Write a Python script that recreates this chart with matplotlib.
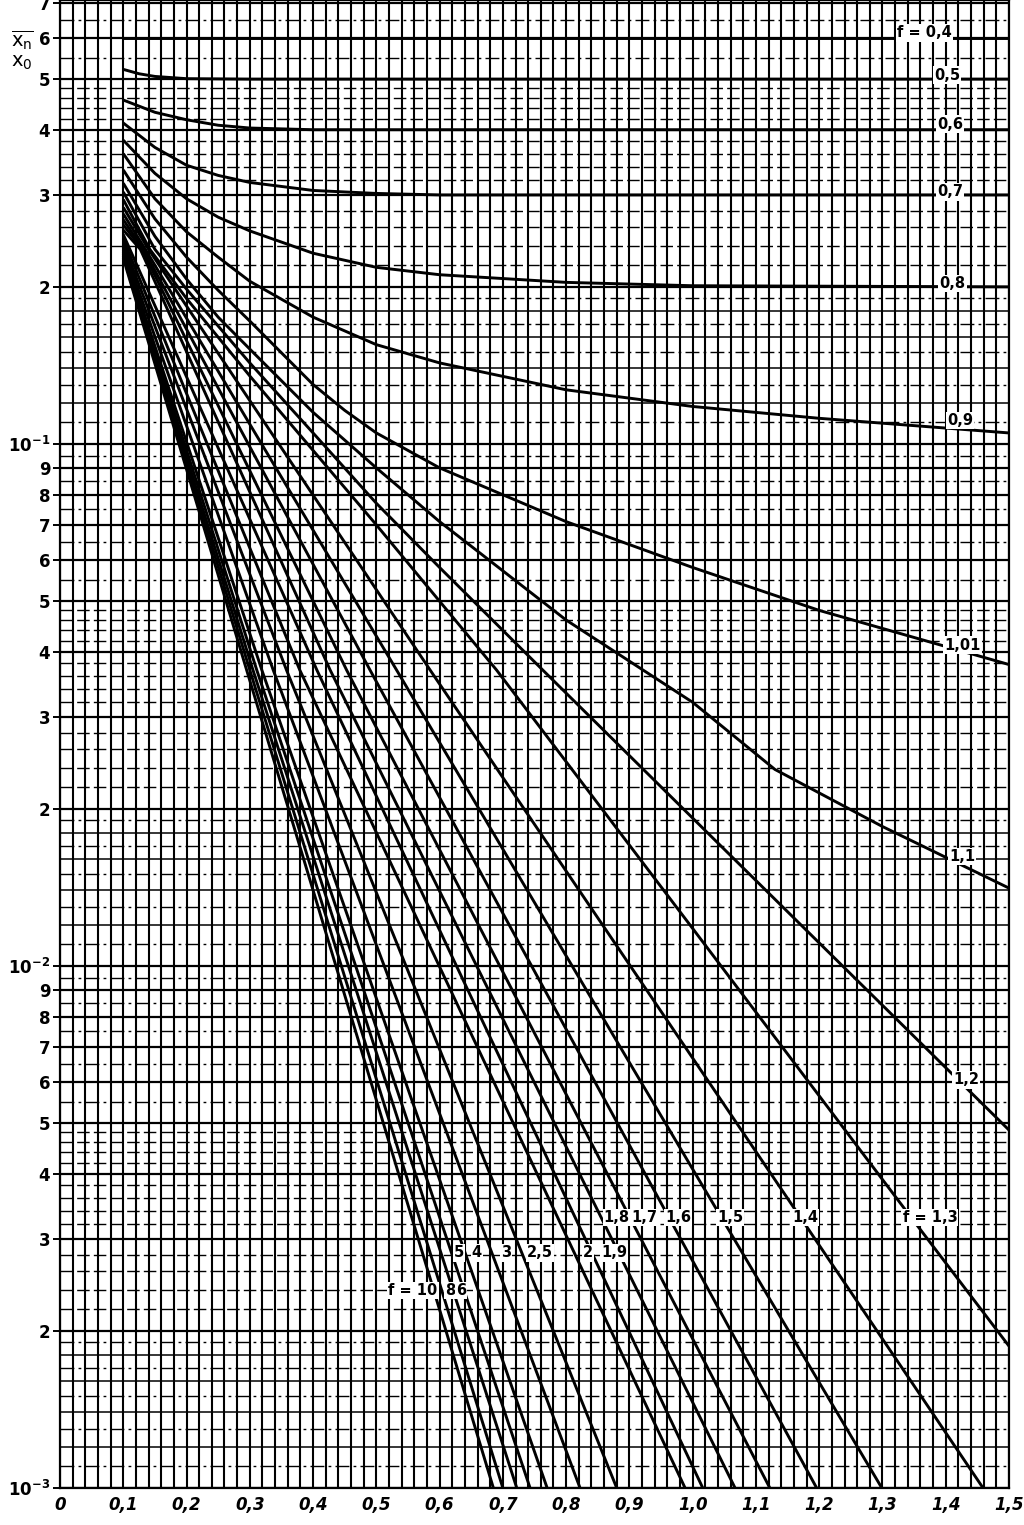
import numpy as np
import matplotlib.pyplot as plt
from matplotlib.ticker import FixedLocator, NullLocator

plt.rcParams['font.family'] = ['DejaVu Sans']
plt.rcParams['mathtext.fontset'] = 'dejavusans'

# curves, x vs x_n/x_0 (log)
x_f04 = [0.1, 1.5]
y_f04 = [0.6, 0.6]
x_f05 = [0.1, 0.125, 0.15, 0.2, 0.3, 1.5]
y_f05 = [0.522, 0.512, 0.506, 0.501, 0.5, 0.5]
x_f06 = [0.1, 0.15, 0.2, 0.25, 0.3, 0.4, 1.5]
y_f06 = [0.456, 0.432, 0.418, 0.408, 0.403, 0.4, 0.4]
x_f07 = [0.1, 0.15, 0.2, 0.25, 0.3, 0.4, 0.5, 0.6, 1.5]
y_f07 = [0.412, 0.37, 0.342, 0.327, 0.317, 0.306, 0.302, 0.3, 0.3]
x_f08 = [0.1, 0.15, 0.2, 0.25, 0.3, 0.4, 0.5, 0.6, 0.8, 1.0, 1.5]
y_f08 = [0.382, 0.33, 0.295, 0.272, 0.256, 0.232, 0.218, 0.211, 0.204, 0.201, 0.2]
x_f09 = [0.1, 0.15, 0.2, 0.25, 0.3, 0.4, 0.5, 0.6, 0.8, 1.0, 1.2, 1.5]
y_f09 = [0.36, 0.295, 0.255, 0.228, 0.205, 0.175, 0.155, 0.143, 0.127, 0.118, 0.112, 0.105]
x_f101 = [0.1, 0.15, 0.2, 0.25, 0.3, 0.4, 0.45, 0.5, 0.6, 0.8, 1.0, 1.2, 1.5]
y_f101 = [0.335, 0.27, 0.228, 0.197, 0.172, 0.13, 0.116, 0.105, 0.09, 0.071, 0.058, 0.048, 0.0378]
x_f11 = [0.1, 0.15, 0.2, 0.25, 0.3, 0.4, 0.5, 0.6, 0.8, 1.0, 1.13, 1.3, 1.5]
y_f11 = [0.316, 0.25, 0.207, 0.175, 0.152, 0.115, 0.09, 0.071, 0.046, 0.032, 0.0238, 0.0185, 0.0141]
x_f12 = [0.1, 0.15, 0.2, 0.3, 0.4, 0.5, 0.6, 0.763, 1.0, 1.237, 1.5]
y_f12 = [0.304, 0.236, 0.198, 0.143, 0.105, 0.077, 0.058, 0.0369, 0.0192, 0.01, 0.00485]
x_f13 = [0.1, 0.142, 0.2, 0.3, 0.5, 0.69, 1.0, 1.346, 1.5]
y_f13 = [0.294, 0.236, 0.19, 0.135, 0.07, 0.0369, 0.0118, 0.00329, 0.00187]
x_f14 = [0.1, 0.14, 0.585, 1.171, 1.459]
y_f14 = [0.284, 0.236, 0.0369, 0.00329, 0.001]
x_f15 = [0.1, 0.135, 0.532, 1.299]
y_f15 = [0.276, 0.236, 0.0369, 0.001]
x_f16 = [0.1, 0.132, 0.49, 1.196]
y_f16 = [0.269, 0.236, 0.0369, 0.001]
x_f17 = [0.1, 0.13, 0.453, 1.122]
y_f17 = [0.263, 0.236, 0.0369, 0.001]
x_f18 = [0.1, 0.127, 0.427, 1.067]
y_f18 = [0.257, 0.236, 0.0369, 0.001]
x_f19 = [0.1, 0.406, 1.016]
y_f19 = [0.252, 0.0369, 0.001]
x_f2 = [0.1, 0.379, 0.988]
y_f2 = [0.247, 0.0369, 0.001]
x_f25 = [0.1, 0.358, 0.880]
y_f25 = [0.242, 0.0369, 0.001]
x_f3 = [0.1, 0.337, 0.822]
y_f3 = [0.238, 0.0369, 0.001]
x_f4 = [0.1, 0.319, 0.770]
y_f4 = [0.235, 0.0369, 0.001]
x_f5 = [0.1, 0.311, 0.743]
y_f5 = [0.233, 0.0369, 0.001]
x_f6 = [0.1, 0.305, 0.722]
y_f6 = [0.231, 0.0369, 0.001]
x_f8 = [0.1, 0.300, 0.700]
y_f8 = [0.229, 0.0369, 0.001]
x_f10 = [0.1, 0.295, 0.685]
y_f10 = [0.227, 0.0369, 0.001]

curves = [(x_f04, y_f04), (x_f05, y_f05), (x_f06, y_f06), (x_f07, y_f07),
          (x_f08, y_f08), (x_f09, y_f09), (x_f101, y_f101), (x_f11, y_f11),
          (x_f12, y_f12), (x_f13, y_f13), (x_f14, y_f14), (x_f15, y_f15),
          (x_f16, y_f16), (x_f17, y_f17), (x_f18, y_f18), (x_f19, y_f19),
          (x_f2, y_f2), (x_f25, y_f25), (x_f3, y_f3), (x_f4, y_f4),
          (x_f5, y_f5), (x_f6, y_f6), (x_f8, y_f8), (x_f10, y_f10)]

# curve labels
lab_text = ['f = 0,4', '0,5', '0,6', '0,7', '0,8', '0,9', '1,01', '1,1', '1,2',
            'f = 1,3', '1,4', '1,5', '1,6', '1,7', '1,8', '1,9', '2', '2,5',
            '3', '4', '5', 'f = 10', '8', '6']
lab_x = [1.367, 1.402, 1.407, 1.407, 1.411, 1.4225, 1.426, 1.426, 1.432,
         1.375, 1.1775, 1.059, 0.977, 0.923, 0.880, 0.876, 0.8345, 0.7587,
         0.705, 0.659, 0.6306, 0.558, 0.6164, 0.6338]
lab_y = [0.613, 0.509, 0.410, 0.304, 0.203, 0.111, 0.0412, 0.0162, 0.00605,
         0.0033, 0.0033, 0.0033, 0.0033, 0.0033, 0.0033, 0.00282, 0.00282,
         0.00282, 0.00282, 0.00282, 0.00282, 0.00239, 0.00239, 0.00239]

x_ticks = [0, 0.1, 0.2, 0.3, 0.4, 0.5, 0.6, 0.7, 0.8, 0.9, 1.0, 1.1, 1.2, 1.3, 1.4, 1.5]
x_ticklabels = ['0', '0,1', '0,2', '0,3', '0,4', '0,5', '0,6', '0,7', '0,8',
                '0,9', '1,0', '1,1', '1,2', '1,3', '1,4', '1,5']

fig = plt.figure(figsize=(10.24, 15.25), dpi=100)
ax = fig.add_axes([60 / 1024, 37 / 1525, 949 / 1024, 1488 / 1525])
ax.set_yscale('log')
ax.set_xlim(0, 1.5)
ax.set_ylim(1e-3, 10 ** (-3 + 1488 / 522))

# graph paper grid
for xv in np.arange(0, 1.5001, 0.02):
    ax.axvline(xv, color='black', lw=1.5, zorder=1)

for dec in [1e-3, 1e-2, 1e-1]:
    for m in range(1, 10):
        ax.axhline(m * dec, color='black', lw=1.6, zorder=1)
    for s in np.arange(1.1, 2.0, 0.1):
        if round(s * 10) % 2 == 0:
            ax.axhline(s * dec, color='black', lw=1.1, zorder=1)
        else:
            ax.axhline(s * dec, color='black', lw=1.0, ls=(0, (10, 3, 2, 3)), zorder=1)
    for s in np.arange(2.2, 5.0, 0.2):
        if abs(s - round(s)) > 0.05:
            ax.axhline(s * dec, color='black', lw=1.0, ls=(0, (9, 3)), zorder=1)
    for s in np.arange(5.5, 10.0, 1.0):
        ax.axhline(s * dec, color='black', lw=1.0, ls=(0, (10, 3, 2, 3)), zorder=1)

for cx, cy in curves:
    ax.plot(cx, cy, color='black', lw=2.1, solid_capstyle='butt', zorder=3)

for t, lx, ly in zip(lab_text, lab_x, lab_y):
    ax.text(lx, ly, t, fontsize=10.5, fontweight='bold', ha='center', va='center',
            zorder=4, bbox=dict(facecolor='white', edgecolor='none', pad=0.8))

# axes ticks
ax.set_xticks(x_ticks)
ax.set_xticklabels(x_ticklabels, fontsize=12, fontweight='bold', fontstyle='italic')
ax.tick_params(axis='x', length=0, pad=6)

y_ticks = []
y_labels = []
for dec, name in [(1e-3, r'$\mathbf{10^{-3}}$'), (1e-2, r'$\mathbf{10^{-2}}$'), (1e-1, r'$\mathbf{10^{-1}}$')]:
    for m in range(1, 10):
        if dec == 1e-1 and m > 7:
            break
        y_ticks.append(m * dec)
        y_labels.append(name if m == 1 else str(m))
ax.yaxis.set_major_locator(FixedLocator(y_ticks))
ax.yaxis.set_minor_locator(NullLocator())
ax.set_yticklabels(y_labels, fontsize=12, fontweight='bold')
ax.tick_params(axis='y', length=5, width=1.4, pad=2)

for sp in ax.spines.values():
    sp.set_linewidth(1.6)

fig.text(22 / 1024, 1 - 40 / 1525, r'$\overline{\mathrm{x_n}}$', fontsize=14, ha='center', va='center')
fig.text(22 / 1024, 1 - 62 / 1525, r'$\mathrm{x_0}$', fontsize=14, ha='center', va='center')

fig.savefig('out.png', dpi=100)
